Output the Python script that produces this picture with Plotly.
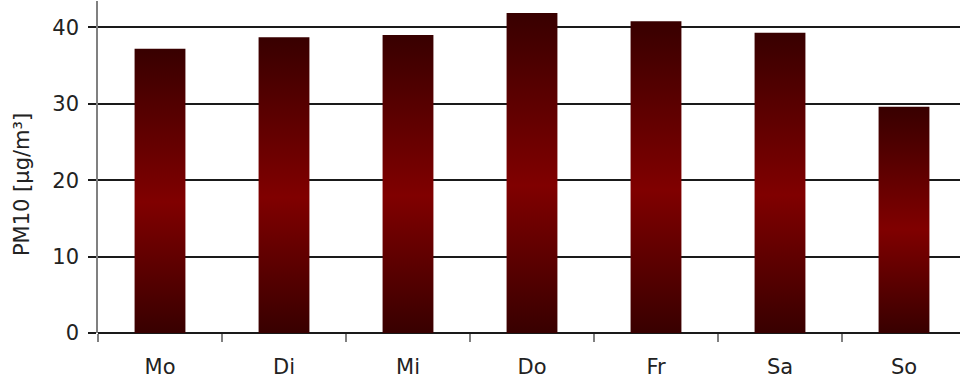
import plotly.graph_objects as go

# Daily mean PM10 concentration per weekday
days = ["Mo", "Di", "Mi", "Do", "Fr", "Sa", "So"]
pm10 = [37.2, 38.7, 39.0, 41.9, 40.8, 39.3, 29.6]

y_ticks = [0, 10, 20, 30, 40]
y_title = "PM10 [µg/m³]"

BAR_WIDTH = 0.41
gradient = [[0.0, "#380000"], [0.46, "#800000"], [1.0, "#380000"]]
font_family = "DejaVu Sans, sans-serif"
text_color = "#222222"

fig = go.Figure()

# Each bar is a filled rectangle so it can carry a vertical gradient
for i, (day, value) in enumerate(zip(days, pm10)):
    left, right = i - BAR_WIDTH / 2, i + BAR_WIDTH / 2
    fig.add_trace(go.Scatter(
        x=[left, right, right, left, left],
        y=[0, 0, value, value, 0],
        mode="lines",
        fill="toself",
        fillgradient=dict(type="vertical", colorscale=gradient),
        line=dict(width=0),
        name=day,
        hoverinfo="text",
        text=f"{day}: {value}",
        showlegend=False,
    ))

# Invisible trace carrying the weekday labels on the overlay axis
fig.add_trace(go.Scatter(
    x=list(range(len(days))), y=[0] * len(days),
    mode="markers", marker=dict(opacity=0), xaxis="x2",
    hoverinfo="skip", showlegend=False,
))

x_range = [-0.5, -0.5 + 862 / 124]
boundaries = [i - 0.5 for i in range(len(days))]

fig.update_layout(
    width=960, height=383,
    margin=dict(l=98, r=0, t=1, b=50, autoexpand=False),
    plot_bgcolor="white", paper_bgcolor="white",
    font=dict(family=font_family, size=21, color=text_color),
    xaxis=dict(
        range=x_range, tickvals=boundaries, ticktext=[""] * len(boundaries),
        ticks="outside", ticklen=8, tickcolor="#808080", tickwidth=1.5,
        showgrid=False, zeroline=False, showline=False, automargin=False,
    ),
    xaxis2=dict(
        range=x_range, overlaying="x", side="bottom",
        tickvals=list(range(len(days))), ticktext=days,
        ticks="", showgrid=False, zeroline=False, showline=False,
        automargin=False,
        ticklabelstandoff=19, tickfont=dict(size=21, color=text_color),
    ),
    yaxis=dict(
        range=[0, 332 / 7.64], tickvals=y_ticks,
        ticks="outside", ticklen=8, tickcolor="#1a1a1a", tickwidth=1.5,
        showgrid=True, gridcolor="#1a1a1a", gridwidth=1.5,
        zeroline=True, zerolinecolor="#1a1a1a", zerolinewidth=1.5,
        showline=True, linecolor="#808080", linewidth=1.5,
        automargin=False, ticklabelstandoff=5,
        tickfont=dict(size=21, color=text_color),
    ),
    annotations=[dict(
        text=y_title, textangle=-90, showarrow=False,
        xref="paper", yref="paper", x=-0.088, y=0.446,
        xanchor="center", yanchor="middle",
        font=dict(size=21, color=text_color),
    )],
)

fig.write_html("out.html")
